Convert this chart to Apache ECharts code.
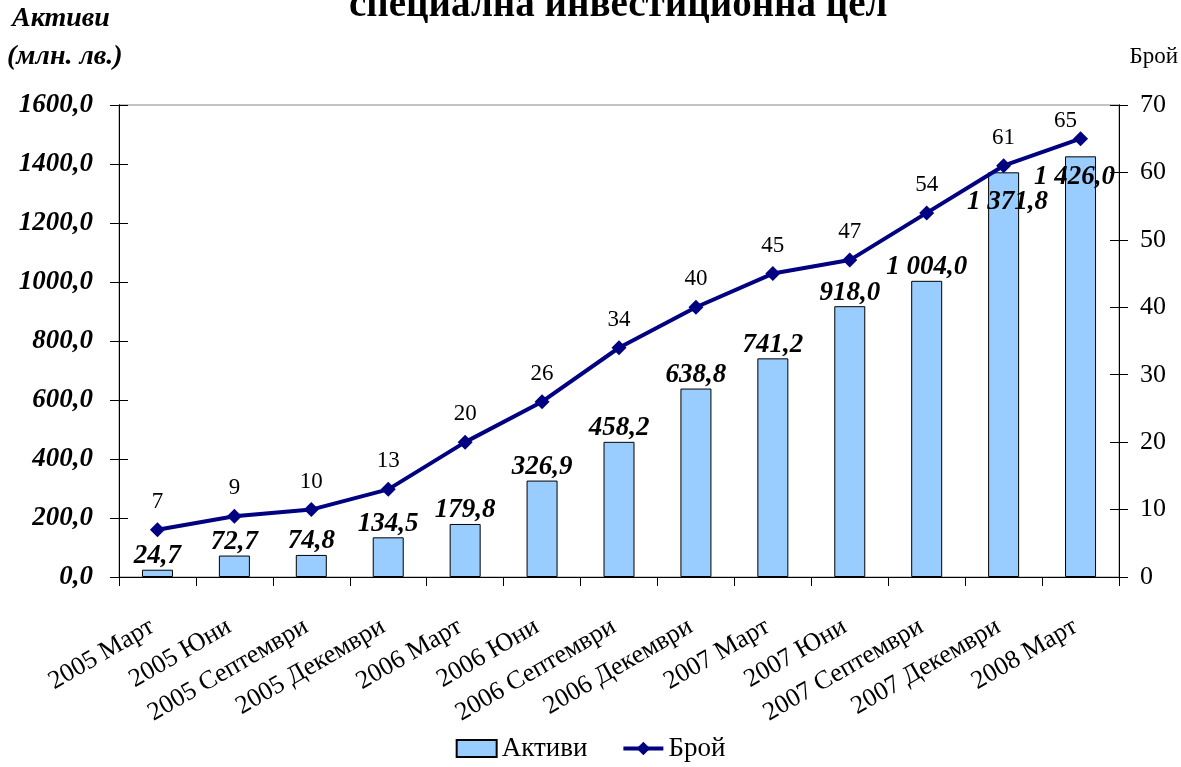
<!DOCTYPE html>
<html>
<head>
<meta charset="utf-8">
<script src="https://cdn.jsdelivr.net/npm/echarts@6/dist/echarts.min.js"></script>
<style>
  html, body { margin: 0; padding: 0; background: #fff; }
  #main { width: 1181px; height: 767px; }
</style>
</head>
<body>
<div id="main"></div>
<script>
var categories = ['2005 Март', '2005 Юни', '2005 Септември', '2005 Декември',
    '2006 Март', '2006 Юни', '2006 Септември', '2006 Декември',
    '2007 Март', '2007 Юни', '2007 Септември', '2007 Декември', '2008 Март'];
var assets = [24.7, 72.7, 74.8, 134.5, 179.8, 326.9, 458.2, 638.8, 741.2, 918.0, 1004.0, 1371.8, 1426.0];
var count = [7, 9, 10, 13, 20, 26, 34, 40, 45, 47, 54, 61, 65];

var serif = '"Liberation Serif", "DejaVu Serif", serif';

function fmtBg(v) {
    var s = v.toFixed(1).split('.');
    return s[0].replace(/\B(?=(\d{3})+(?!\d))/g, ' ') + ',' + s[1];
}

// the last two labels sit inside the bars in the original
var barData = assets.map(function (v, i) {
    if (i === 11) return {value: v, label: {position: 'insideTop', offset: [4, 16]}};
    if (i === 12) return {value: v, label: {position: 'insideTop', offset: [-6, 7]}};
    return v;
});
var lineData = count.map(function (v, i) {
    if (i === 12) return {value: v, label: {offset: [-15, 10]}};
    return v;
});

var myChart = echarts.init(document.getElementById('main'));

var leftAxis = {
    type: 'value', position: 'left', min: 0, max: 1600, interval: 200,
    axisLine: {show: true, lineStyle: {color: '#000'}},
    axisTick: {show: true, length: 9, lineStyle: {color: '#000'}},
    axisLabel: {
        fontFamily: serif, fontSize: 27, fontWeight: 'bold', fontStyle: 'italic', color: '#000',
        margin: 26, formatter: function (v) { return v.toFixed(1).replace('.', ','); }
    },
    splitLine: {show: false}
};
var rightAxis = {
    type: 'value', position: 'right', min: 0, max: 70, interval: 10,
    axisLine: {show: true, lineStyle: {color: '#000'}},
    axisTick: {show: true, length: 9, lineStyle: {color: '#000'}},
    axisLabel: {fontFamily: serif, fontSize: 26, color: '#000', margin: 21},
    splitLine: {show: false}
};
// inner half of the crossing ticks
var leftInner = echarts.util.merge(echarts.util.clone(leftAxis),
    {axisTick: {inside: true}, axisLabel: {show: false}}, true);
var rightInner = echarts.util.merge(echarts.util.clone(rightAxis),
    {axisTick: {inside: true}, axisLabel: {show: false}}, true);

option = {
    animation: false,
    backgroundColor: '#fff',
    title: {
        text: 'специална инвестиционна цел',
        left: 344,
        top: -19,
        textStyle: {fontFamily: serif, fontSize: 39, fontWeight: 'bold', color: '#000'}
    },
    graphic: [
        {type: 'text', left: 12, top: 5,
            style: {text: 'Активи', font: 'italic bold 28px ' + serif, fill: '#000'}},
        {type: 'text', left: 7, top: 43,
            style: {text: '(млн. лв.)', font: 'italic bold 28px ' + serif, fill: '#000'}},
        {type: 'text', right: 3, top: 45,
            style: {text: 'Брой', font: '23px ' + serif, fill: '#000'}}
    ],
    grid: {
        left: 119, right: 62, top: 105, bottom: 190,
        show: true, borderColor: '#888', borderWidth: 1
    },
    legend: {
        bottom: 0,
        left: 'center',
        itemGap: 34,
        itemWidth: 40,
        itemHeight: 17,
        textStyle: {fontFamily: serif, fontSize: 27, color: '#000'},
        data: [
            {name: 'Активи', icon: 'rect'},
            {name: 'Брой', lineStyle: {width: 4}}
        ]
    },
    xAxis: {
        type: 'category',
        data: categories,
        boundaryGap: true,
        axisLine: {lineStyle: {color: '#000'}},
        axisTick: {show: true, length: 9, alignWithLabel: false, lineStyle: {color: '#000'}},
        axisLabel: {
            interval: 0, rotate: 30, fontFamily: serif, fontSize: 26, color: '#000',
            margin: 45, padding: [0, 6, 0, 0]
        }
    },
    yAxis: [leftAxis, rightAxis, leftInner, rightInner],
    series: [
        {
            name: 'Активи',
            type: 'bar',
            yAxisIndex: 0,
            barWidth: 31,
            data: barData,
            itemStyle: {color: '#99CCFF', borderColor: '#000', borderWidth: 1},
            label: {
                show: true, position: 'top', distance: 0,
                fontFamily: serif, fontSize: 27, fontWeight: 'bold', fontStyle: 'italic', color: '#000',
                formatter: function (p) { return fmtBg(p.value); }
            },
            z: 2
        },
        {
            name: 'Брой',
            type: 'line',
            yAxisIndex: 1,
            data: lineData,
            symbol: 'diamond',
            symbolSize: 15,
            lineStyle: {color: '#000080', width: 4},
            itemStyle: {color: '#000080'},
            label: {
                show: true, position: 'top', distance: 9,
                fontFamily: serif, fontSize: 23, color: '#000'
            },
            z: 3
        }
    ]
};

myChart.setOption(option);
onresize = myChart.resize;
</script>
</body>
</html>
